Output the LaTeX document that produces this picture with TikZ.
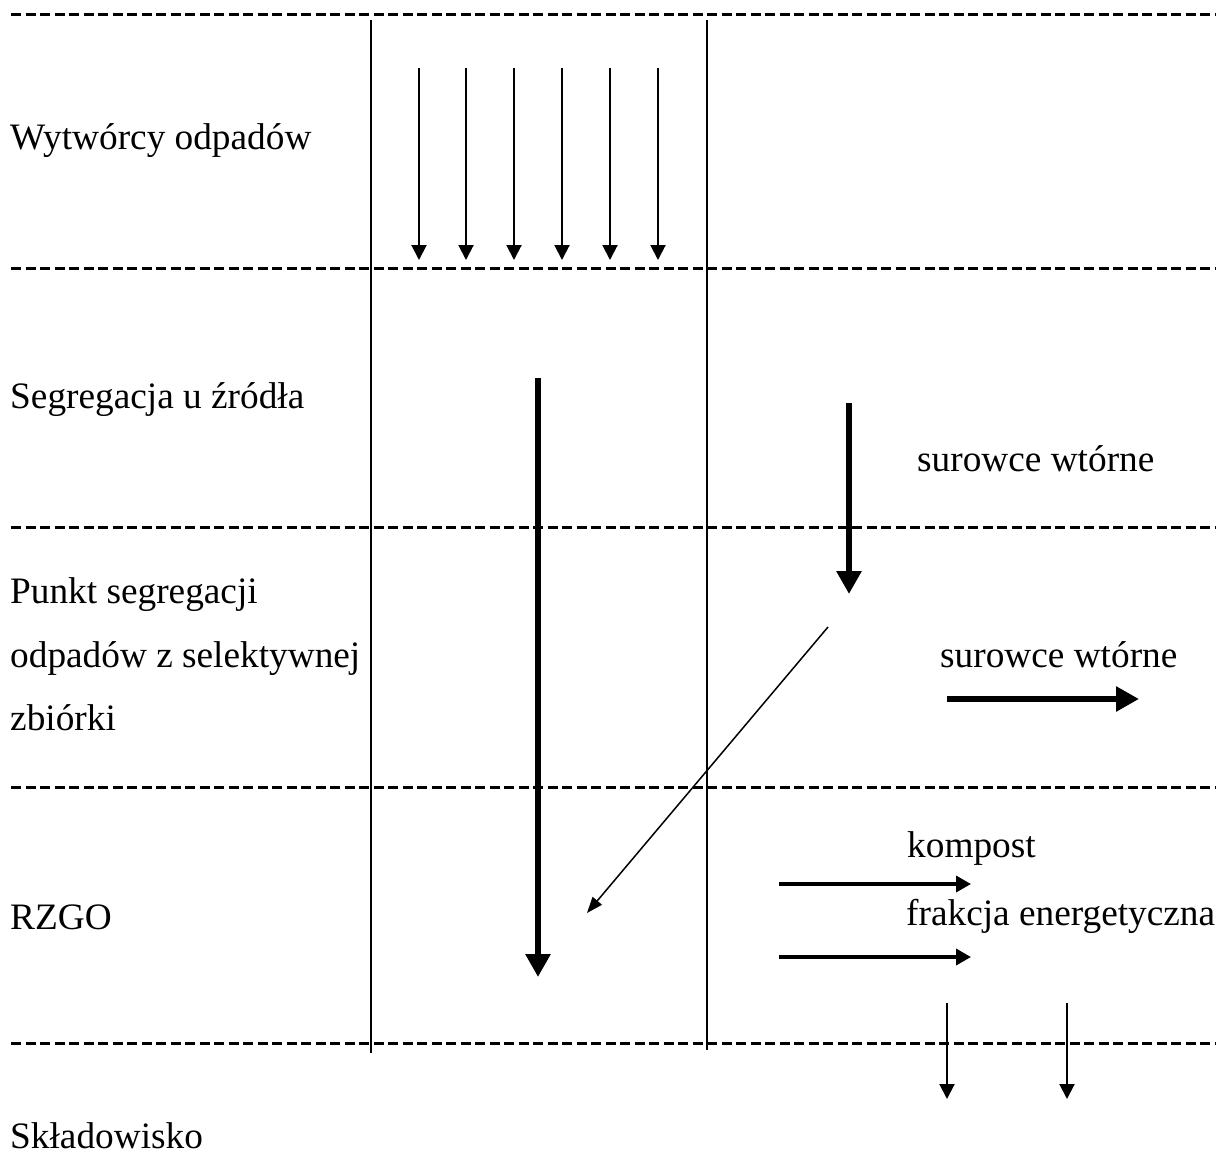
\documentclass[tikz,border=0pt]{standalone}
\usepackage{fontspec}
\setmainfont{Liberation Serif}
\usetikzlibrary{arrows.meta}

\begin{document}
\begin{tikzpicture}[x=1pt,y=-1pt,
	lbl/.style={anchor=base west,inner sep=0pt,font=\fontsize{37.3}{44}\selectfont},
	sep/.style={line width=3pt,dash pattern=on 10pt off 4.5pt},
	lane/.style={line width=2pt},
	small flow/.style={line width=2pt,-{Triangle[length=15pt,width=15pt]}},
	mid flow/.style={line width=3.5pt,-{Triangle[length=15pt,width=16pt]}},
	big flow/.style={line width=6.5pt,-{Triangle[length=23pt,width=24pt]}},
	back flow/.style={line width=1.5pt,-{Triangle[length=16pt,width=12pt]}}]
	\useasboundingbox (0,0) rectangle (1221,1171);
	% poziomy (warstwy)
	\foreach \y in {14,268,527,787,1043}
		\draw[sep] (11,\y) -- (1215,\y);
	% pionowe linie
	\draw (371,20) coordinate (l1t) (371,1053) coordinate (l1b);
	\draw (707,20) coordinate (l2t) (707,1050) coordinate (l2b);
	\draw[lane] (l1t) -- (l1b);
	\draw[lane] (l2t) -- (l2b);
	% etykiety
	\node[lbl] (wyt) at (10,149) {Wytwórcy odpadów};
	\node[lbl] (seg) at (10,408) {Segregacja u źródła};
	\node[lbl] (sur1) at (917,471) {surowce wtórne};
	\node[lbl] (pkt1) at (10,603) {Punkt segregacji};
	\node[lbl] (pkt2) at (10,667) {odpadów z selektywnej};
	\node[lbl] (pkt3) at (10,730) {zbiórki};
	\node[lbl] (sur2) at (940,667) {surowce wtórne};
	\node[lbl] (komp) at (907,857) {kompost};
	\node[lbl] (frak) at (906,925) {frakcja energetyczna};
	\node[lbl] (rzgo) at (10,929) {RZGO};
	\node[lbl] (skl) at (10,1148) {Składowisko};
	% strumienie od wytworcow
	\foreach \x [count=\i] in {419,466,514,562,610,658} {
		\coordinate (w\i s) at (\x,68);
		\coordinate (w\i e) at (\x,260);
		\draw[small flow] (w\i s) -- (w\i e);
	}
	% glowne strumienie
	\coordinate (zm s) at (538,378);
	\coordinate (zm e) at (538,977);
	\coordinate (sw s) at (849,403);
	\coordinate (sw e) at (849,594);
	\coordinate (bk s) at (828,627);
	\coordinate (bk e) at (587,913);
	\coordinate (sr s) at (947,699);
	\coordinate (sr e) at (1139,699);
	\draw[big flow] (zm s) -- (zm e);
	\draw[big flow] (sw s) -- (sw e);
	\draw[back flow] (bk s) -- (bk e);
	\draw[big flow] (sr s) -- (sr e);
	% wyjscia z RZGO
	\coordinate (ko s) at (779,884);
	\coordinate (ko e) at (971,884);
	\coordinate (fr s) at (779,957);
	\coordinate (fr e) at (971,957);
	\draw[mid flow] (ko s) -- (ko e);
	\draw[mid flow] (fr s) -- (fr e);
	\foreach \x [count=\i] in {947,1067} {
		\coordinate (d\i s) at (\x,1003);
		\coordinate (d\i e) at (\x,1099);
		\draw[small flow] (d\i s) -- (d\i e);
	}
\end{tikzpicture}
\end{document}
